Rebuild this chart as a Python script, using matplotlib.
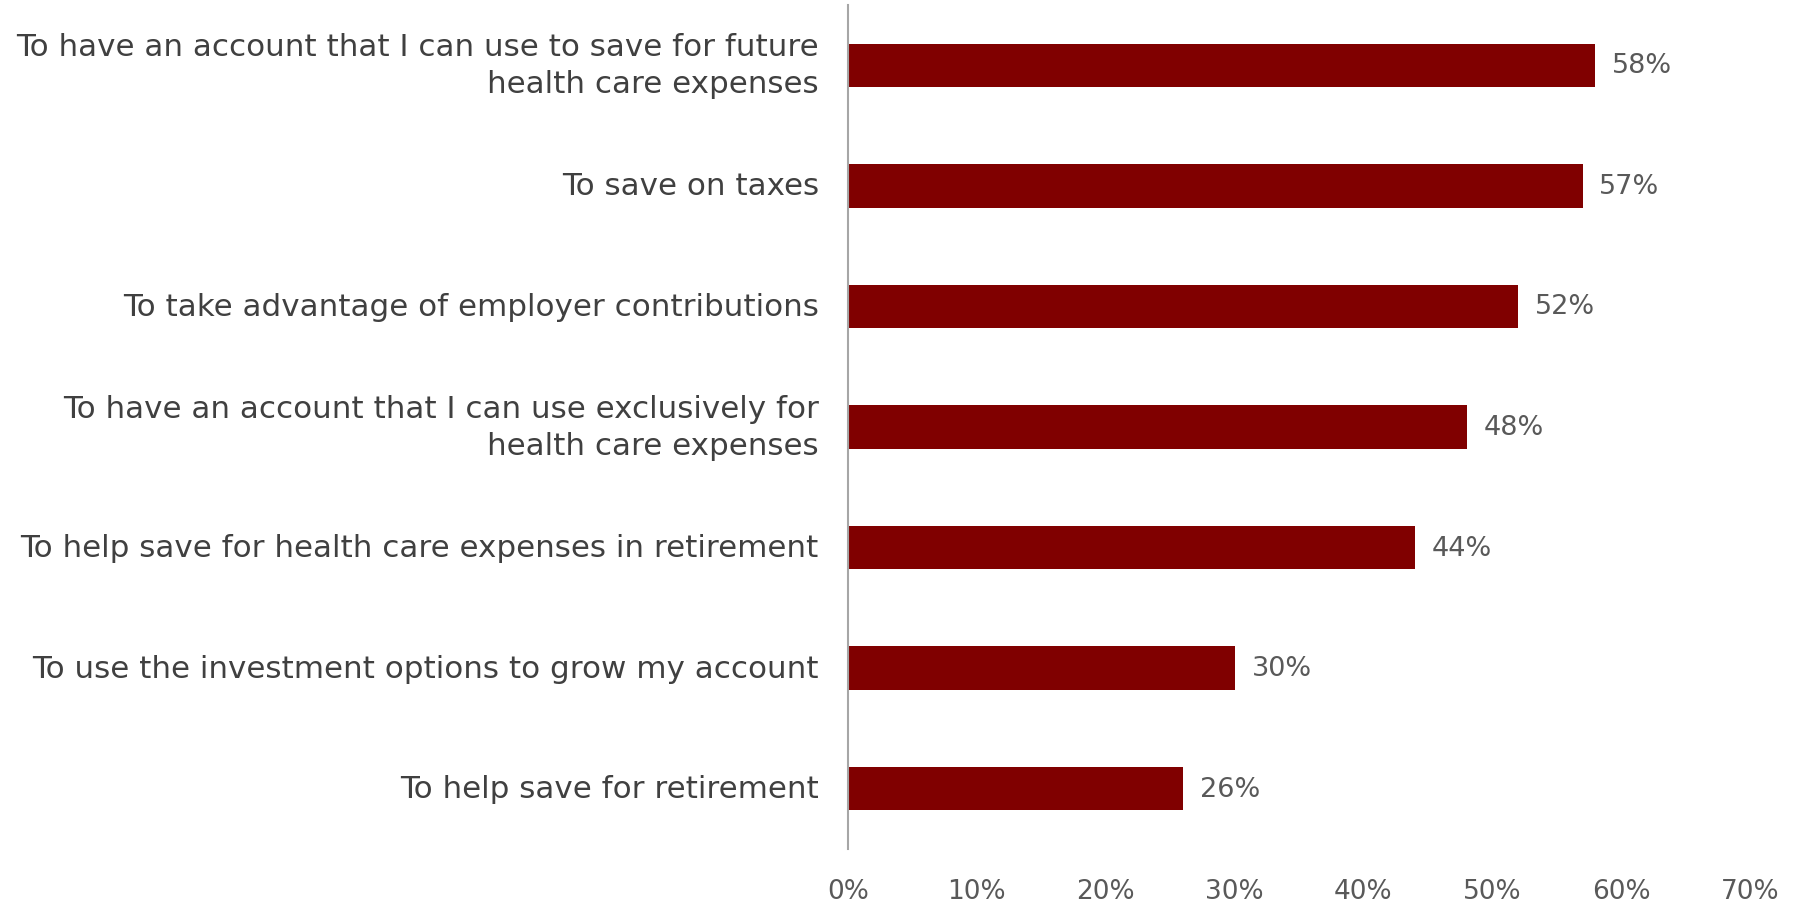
import matplotlib
matplotlib.use("Agg")
import matplotlib.pyplot as plt
import matplotlib.ticker as ticker

# reasons for opening the account, share of respondents
reasons = [
    "To have an account that I can use to save for future\nhealth care expenses",
    "To save on taxes",
    "To take advantage of employer contributions",
    "To have an account that I can use exclusively for\nhealth care expenses",
    "To help save for health care expenses in retirement",
    "To use the investment options to grow my account",
    "To help save for retirement",
]
shares = [0.58, 0.57, 0.52, 0.48, 0.44, 0.30, 0.26]
xticks = [0, 0.1, 0.2, 0.3, 0.4, 0.5, 0.6, 0.7]

plt.rcParams['font.family'] = ['DejaVu Sans']

fig = plt.figure(figsize=(18.02, 9.03), dpi=100)
ax = fig.add_axes([0.4706, 0.0587, 0.5006, 0.9347])

ypos = list(range(len(reasons)))
ax.barh(ypos, shares, height=0.36, color='#800000')

for y, v in zip(ypos, shares):
    ax.text(v + 0.013, y, '%d%%' % round(v * 100), va='center', ha='left',
            fontsize=19.5, color='#595959')

ax.set_ylim(len(reasons) - 0.5, -0.5)
ax.set_xlim(0, 0.7)
ax.set_yticks(ypos)
ax.set_yticklabels(reasons, fontsize=22.3, color='#404040', linespacing=1.35)
for tl in ax.get_yticklabels():
    tl.set_va('center')
ax.set_xticks(xticks)
ax.xaxis.set_major_formatter(ticker.FuncFormatter(lambda v, p: '%d%%' % round(v * 100)))
ax.tick_params(axis='x', length=0, pad=21, labelsize=19, labelcolor='#595959')
ax.tick_params(axis='y', length=0, pad=21)

for s in ['top', 'right', 'bottom']:
    ax.spines[s].set_visible(False)
ax.spines['left'].set_color('#A6A6A6')
ax.spines['left'].set_linewidth(1.5)

fig.savefig('out.png', dpi=100)
